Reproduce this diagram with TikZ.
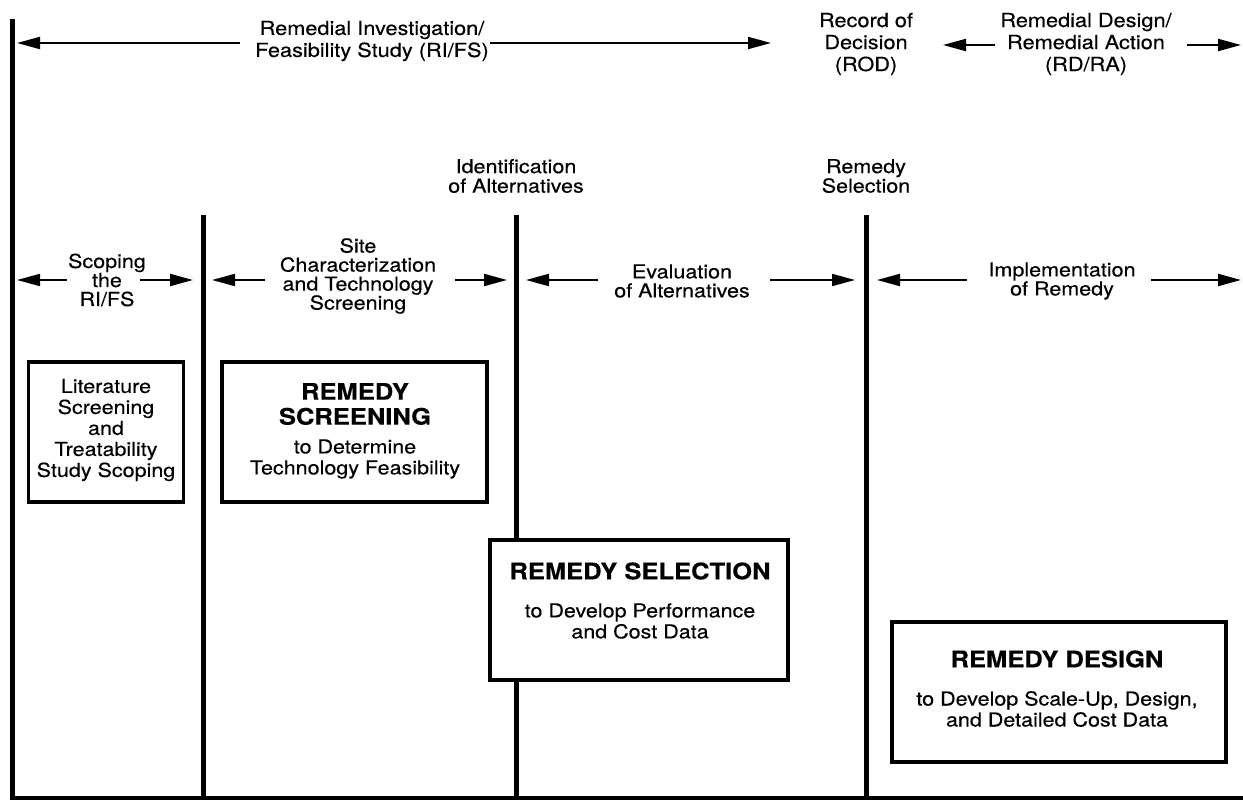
\documentclass[tikz,border=0pt]{standalone}
\usepackage{fontspec}
\setmainfont[FakeStretch=1.12, UprightFeatures={FakeBold=0.3}, BoldFeatures={FakeBold=0.3}]{TeX Gyre Heros}
\usetikzlibrary{arrows.meta}
\begin{document}
\begin{tikzpicture}[x=1pt,y=-1pt,
  rule/.style={line width=5pt},
  baseline rule/.style={line width=3.5pt},
  frame/.style={draw, line width=3.5pt, fill=white, inner sep=0pt},
  toplbl/.style={align=center, inner sep=0pt, font=\fontsize{19.4}{22}\selectfont},
  lbl/.style={align=center, inner sep=0pt, font=\fontsize{19.2}{19}\selectfont},
  boxtxt/.style={align=center, inner sep=0pt, font=\fontsize{19.2}{21}\selectfont},
  head/.style={align=center, inner sep=0pt, font=\bfseries\fontsize{22.8}{25}\selectfont},
  span/.style={line width=2pt, -{Triangle[length=23pt,width=12pt]}},
]
% canvas
\useasboundingbox (0,0) rectangle (1243,802);
\fill[white] (0,0) rectangle (1243,802);

% time rules
\coordinate (r0t) at (12,19);   \coordinate (r0b) at (12,798);
\coordinate (r1t) at (203,215); \coordinate (r1b) at (203,798);
\coordinate (r2t) at (516,215); \coordinate (r2b) at (516,798);
\coordinate (r3t) at (866,215); \coordinate (r3b) at (866,798);
\coordinate (bl) at (10,798);   \coordinate (br) at (1243,798);
\draw[rule] (r0t) -- (r0b);
\draw[rule] (r1t) -- (r1b);
\draw[rule] (r2t) -- (r2b);
\draw[rule] (r3t) -- (r3b);
\draw[baseline rule] (bl) -- (br);

% programme stages along the top
\node[toplbl] (rifs) at (372,41) {Remedial Investigation/\\Feasibility Study (RI/FS)};
\node[toplbl] (rod)  at (866,44) {Record of\\Decision\\(ROD)};
\node[toplbl] (rdra) at (1086,44) {Remedial Design/\\Remedial Action\\(RD/RA)};

\coordinate (s1a) at (17,43);   \coordinate (s1b) at (240,43);
\coordinate (s2a) at (490,43);  \coordinate (s2b) at (771,43);
\coordinate (s3a) at (943,45);  \coordinate (s3b) at (995,45);
\coordinate (s4a) at (1187,45); \coordinate (s4b) at (1241,45);
\draw[span] (s1b) -- (s1a);
\draw[span] (s2a) -- (s2b);
\draw[span] (s3b) -- (s3a);
\draw[span] (s4a) -- (s4b);

% milestones
\node[toplbl, font=\fontsize{19.2}{19.5}\selectfont] (ident) at (516,176) {Identification\\of Alternatives};
\node[toplbl, font=\fontsize{19.2}{19.5}\selectfont] (msel)  at (866,176) {Remedy\\Selection};

% phases
\node[lbl] (scope) at (107,280) {Scoping\\the\\RI/FS};
\node[lbl] (site)  at (358,276) {Site\\Characterization\\and Technology\\Screening};
\node[lbl] (eval)  at (682,281) {Evaluation\\of Alternatives};
\node[lbl] (impl)  at (1062,281) {Implementation\\of Remedy};

\coordinate (p1a) at (17,280);  \coordinate (p1b) at (67,280);
\coordinate (p1c) at (140,280); \coordinate (p1d) at (193,280);
\coordinate (p2a) at (212,280); \coordinate (p2b) at (265,280);
\coordinate (p2c) at (455,280); \coordinate (p2d) at (507,280);
\coordinate (p3a) at (526,280); \coordinate (p3b) at (598,280);
\coordinate (p3c) at (770,280); \coordinate (p3d) at (855,280);
\coordinate (p4a) at (877,280); \coordinate (p4b) at (967,280);
\coordinate (p4c) at (1151,280);\coordinate (p4d) at (1241,280);
\draw[span] (p1b) -- (p1a); \draw[span] (p1c) -- (p1d);
\draw[span] (p2b) -- (p2a); \draw[span] (p2c) -- (p2d);
\draw[span] (p3b) -- (p3a); \draw[span] (p3c) -- (p3d);
\draw[span] (p4b) -- (p4a); \draw[span] (p4c) -- (p4d);

% treatability study boxes
\node[frame, minimum width=155pt, minimum height=140pt] (lit) at (106,432) {};
\node[boxtxt] (littxt) at (106,430) {Literature\\Screening\\and\\Treatability\\Study Scoping};

\node[frame, minimum width=265pt, minimum height=140pt] (scr) at (354.5,432) {};
\node[head]   (scrhead) at (355,404) {REMEDY\\SCREENING};
\node[boxtxt] (scrtxt)  at (355,459) {to Determine\\Technology Feasibility};

\node[frame, minimum width=298pt, minimum height=140pt] (sel) at (639,610) {};
\node[head]   (selhead) at (640,571) {REMEDY SELECTION};
\node[boxtxt] (seltxt)  at (640,621) {to Develop Performance\\and Cost Data};

\node[frame, minimum width=334pt, minimum height=140pt] (des) at (1059,692) {};
\node[head]   (deshead) at (1057,659) {REMEDY DESIGN};
\node[boxtxt] (destxt)  at (1057,709) {to Develop Scale-Up, Design,\\and Detailed Cost Data};
\end{tikzpicture}
\end{document}
